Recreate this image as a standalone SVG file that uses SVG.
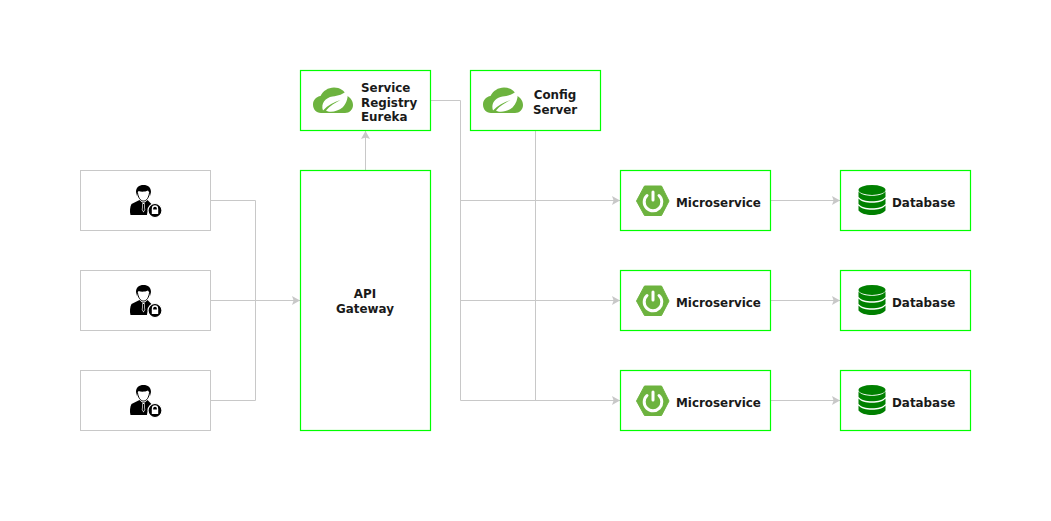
<svg xmlns="http://www.w3.org/2000/svg" width="1051" height="521" viewBox="0 0 1051 521">
<style>
.g{fill:#fff;stroke:#00ff00;stroke-width:1.2}
.u{fill:#fff;stroke:#c8c8c8;stroke-width:1}
.c{fill:none;stroke:#c8c8c8;stroke-width:1}
.t{font-family:"DejaVu Sans",sans-serif;font-weight:700;font-size:11.9px;fill:#1a1a1a}
.m{text-anchor:middle}
</style>
<defs>
<marker id="a" viewBox="0 0 8 9" refX="8" refY="4.500" markerWidth="8" markerHeight="9" markerUnits="userSpaceOnUse" orient="auto"><path d="M0 0L8 4.500L0 9L1.600 4.500Z" fill="#c8c8c8"/></marker>
<symbol id="cloud" width="40" height="26" viewBox="0 0 40 26" overflow="visible">
<path d="M8 25.500C3 25.500 0 21.500 0 17C0 12.500 3.500 9 7.500 8.500C10 3.500 15 0 21 0C27 0 31.500 3 33.500 8C37.500 10 40 13.500 40 17.500C40 22 36.500 25.500 32 25.500Z" fill="#6db33f"/>
<path d="M10 23C7.500 16 12.500 10 19.500 9C25 8.300 30.500 7 34.500 2.500C35.500 9 34 15.500 29.500 20C25 24 16.500 25.500 13 23C17 18 22 15.500 27.500 12.500C21 14.500 15 17.500 10 23Z" fill="#fff"/>
</symbol>
<symbol id="boot" width="34" height="30" viewBox="0 0 34 30" overflow="visible">
<path d="M8.500 0H25.500L33 15L25.500 29.500H8.500L0.500 15Z" fill="#6db33f" stroke="#6db33f" stroke-linejoin="round" stroke-width="1"/>
<path d="M11 9.500A8.800 8.800 0 1 0 23 9.500" fill="none" stroke="#fff" stroke-width="3" stroke-linecap="round"/>
<path d="M17 6V14" fill="none" stroke="#fff" stroke-width="3" stroke-linecap="round"/>
</symbol>
<symbol id="db" width="28" height="30" viewBox="0 0 28 30" overflow="visible">
<ellipse cx="14" cy="5" rx="13.500" ry="5" fill="#008000"/>
<path d="M0.500 6.500C3 9.500 8 10.800 14 10.800S25 9.500 27.500 6.500V12C25 15 20 16.300 14 16.300S3 15 0.500 12Z" fill="#008000"/>
<path d="M0.500 13.500C3 16.500 8 17.800 14 17.800S25 16.500 27.500 13.500V19C25 22 20 23.300 14 23.300S3 22 0.500 19Z" fill="#008000"/>
<path d="M0.500 20.500C3 23.500 8 24.800 14 24.800S25 23.500 27.500 20.500V25.500C25 28.500 20 30 14 30S3 28.500 0.500 25.500Z" fill="#008000"/>
</symbol>
<symbol id="user" width="32" height="32" viewBox="0 0 32 32" overflow="visible">
<path d="M6 7.500C6 3 9 0.500 13.500 0.500S21 3 21 7.500L20 11.500C19.500 9 19 7 18 6C15 7.500 11 7.500 8.500 6.500C7.500 8 7.500 10 7 11.500Z" fill="#000"/>
<path d="M7.500 8C8 13 10.500 16.500 13.500 16.500S19 13 19.500 8" fill="#fff" stroke="#000" stroke-width="1"/>
<path d="M9.500 15.500L1.500 19.500C0 22 -0.500 27 0.500 30.500H17C17.500 26 20 22.500 24 22L17.500 15.500L14.800 18H12.200Z" fill="#000"/>
<path d="M12.500 18.500H14.500L15.200 25L13.500 28L11.800 25Z" fill="#fff"/>
<path d="M13 19.500H14L14.500 25L13.500 27L12.500 25Z" fill="#000"/>
<circle cx="25" cy="26" r="7" fill="#000" stroke="#fff" stroke-width="1.200"/>
<path d="M22.500 25.500V24A2.500 2.500 0 0 1 27.500 24V25.500" fill="none" stroke="#fff" stroke-width="1.300"/>
<rect x="21.800" y="25" width="6.400" height="4.500" fill="#fff"/>
</symbol>
</defs>
<rect width="1051" height="521" fill="#fff"/>
<g id="connectors">
<path class="c" d="M211 200.500H255.500V400.500H211"/>
<path class="c" d="M211 300.500H300" marker-end="url(#a)"/>
<path class="c" d="M365.500 170V131" marker-end="url(#a)"/>
<path class="c" d="M431 100.500H460.500V400.500H620" marker-end="url(#a)"/>
<path class="c" d="M460.500 200.500H620" marker-end="url(#a)"/>
<path class="c" d="M460.500 300.500H620" marker-end="url(#a)"/>
<path class="c" d="M535.500 131V400.500"/>
<path class="c" d="M771 200.500H840" marker-end="url(#a)"/>
<path class="c" d="M771 300.500H840" marker-end="url(#a)"/>
<path class="c" d="M771 400.500H840" marker-end="url(#a)"/>
</g>
<g id="user1"><rect class="u" x="80.500" y="170.500" width="130" height="60"/><use href="#user" x="130" y="184.500"/></g>
<g id="user2"><rect class="u" x="80.500" y="270.500" width="130" height="60"/><use href="#user" x="130" y="284.500"/></g>
<g id="user3"><rect class="u" x="80.500" y="370.500" width="130" height="60"/><use href="#user" x="130" y="384.500"/></g>
<g id="gateway"><rect class="g" x="300.500" y="170.500" width="130" height="260"/>
<text class="t m" x="365" y="298">API</text><text class="t m" x="365" y="313">Gateway</text></g>
<g id="registry"><rect class="g" x="300.500" y="70.500" width="130" height="60"/><use href="#cloud" x="313" y="87.500"/>
<text class="t" x="361" y="92">Service</text><text class="t" x="361" y="107">Registry</text><text class="t" x="361" y="121">Eureka</text></g>
<g id="config"><rect class="g" x="470.500" y="70.500" width="130" height="60"/><use href="#cloud" x="483" y="87.500"/>
<text class="t m" x="555" y="99">Config</text><text class="t m" x="555" y="114">Server</text></g>
<g id="ms1"><rect class="g" x="620.500" y="170.500" width="150" height="60"/><use href="#boot" x="636" y="186"/><text class="t" x="676" y="207">Microservice</text></g>
<g id="ms2"><rect class="g" x="620.500" y="270.500" width="150" height="60"/><use href="#boot" x="636" y="286"/><text class="t" x="676" y="307">Microservice</text></g>
<g id="ms3"><rect class="g" x="620.500" y="370.500" width="150" height="60"/><use href="#boot" x="636" y="386"/><text class="t" x="676" y="407">Microservice</text></g>
<g id="db1"><rect class="g" x="840.500" y="170.500" width="130" height="60"/><use href="#db" x="858" y="185"/><text class="t" x="892" y="207">Database</text></g>
<g id="db2"><rect class="g" x="840.500" y="270.500" width="130" height="60"/><use href="#db" x="858" y="285"/><text class="t" x="892" y="307">Database</text></g>
<g id="db3"><rect class="g" x="840.500" y="370.500" width="130" height="60"/><use href="#db" x="858" y="385"/><text class="t" x="892" y="407">Database</text></g>
</svg>
